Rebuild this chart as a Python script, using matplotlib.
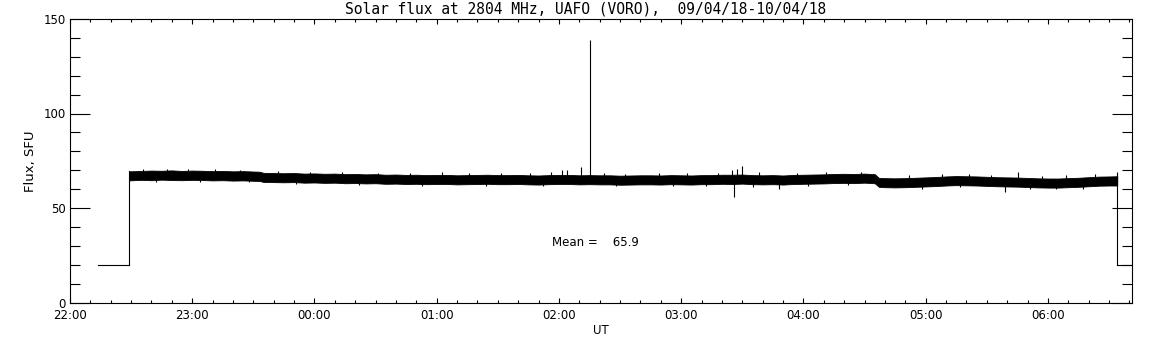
import numpy as np
import matplotlib
matplotlib.use('Agg')
import matplotlib.pyplot as plt
from matplotlib.ticker import MultipleLocator, FixedLocator

# time axis in minutes after 22:00 UT
title = 'Solar flux at 2804 MHz, UAFO (VORO),  09/04/18-10/04/18'
tick_minutes = [0, 60, 120, 180, 240, 300, 360, 420, 480]
tick_labels = ['22:00', '23:00', '00:00', '01:00', '02:00', '03:00', '04:00', '05:00', '06:00']
x_end = 521.0
mean_flux = 65.9

# flat "no data" level before and after the observation
pre_t = [13.7, 29.0]
pre_flux = [20.0, 20.0]
post_t = [514.0, 521.0]
post_flux = [20.0, 20.0]

# noise band of the measurement (lower / upper envelope, SFU)
band_t = [29, 35, 40, 45, 50, 55, 60, 65, 70, 75, 80, 85, 90, 93, 95, 100, 105, 110,
          115, 120, 125, 130, 135, 140, 145, 150, 155, 160, 165, 170, 175, 180, 185,
          190, 195, 200, 205, 210, 215, 220, 225, 230, 235, 240, 245, 250, 255, 260,
          265, 270, 275, 280, 285, 290, 295, 300, 305, 310, 315, 320, 325, 330, 335,
          340, 345, 350, 355, 360, 365, 370, 375, 380, 385, 390, 395, 397, 400, 405,
          410, 415, 420, 425, 430, 435, 440, 445, 450, 455, 460, 465, 470, 475, 480,
          485, 490, 495, 500, 505, 510, 514]
band_lo = [64.6, 64.9, 64.7, 65.0, 64.8, 64.7, 64.9, 64.8, 64.6, 64.7, 64.5, 64.6,
           64.4, 64.3, 63.8, 63.7, 63.6, 63.7, 63.4, 63.5, 63.3, 63.4, 63.1, 63.2,
           63.0, 63.1, 62.8, 62.9, 62.7, 62.8, 62.6, 62.7, 62.7, 62.5, 62.6, 62.7,
           62.8, 62.6, 62.6, 62.7, 62.5, 62.4, 62.6, 62.7, 62.7, 62.5, 62.6, 62.5,
           62.5, 62.3, 62.4, 62.5, 62.5, 62.4, 62.6, 62.5, 62.4, 62.6, 62.6, 62.8,
           62.7, 62.9, 62.6, 62.5, 62.6, 62.4, 62.7, 62.8, 62.9, 63.0, 63.2, 63.3,
           63.2, 63.4, 63.1, 61.2, 61.0, 60.9, 61.0, 61.2, 61.4, 61.6, 61.9, 62.1,
           62.0, 61.9, 61.7, 61.5, 61.4, 61.3, 61.1, 60.9, 60.8, 60.8, 61.0, 61.2,
           61.5, 61.8, 61.9, 61.9]
band_hi = [69.4, 69.6, 69.8, 69.7, 69.9, 69.6, 69.8, 69.7, 69.5, 69.6, 69.4, 69.5,
           69.3, 69.2, 68.6, 68.5, 68.4, 68.5, 68.2, 68.3, 68.1, 68.2, 67.9, 68.0,
           67.8, 67.9, 67.6, 67.7, 67.5, 67.6, 67.4, 67.5, 67.5, 67.3, 67.4, 67.5,
           67.6, 67.4, 67.4, 67.5, 67.3, 67.2, 67.4, 67.5, 67.5, 67.3, 67.4, 67.3,
           67.3, 67.1, 67.2, 67.3, 67.3, 67.2, 67.4, 67.3, 67.2, 67.4, 67.4, 67.6,
           67.6, 67.7, 67.4, 67.3, 67.4, 67.2, 67.5, 67.6, 67.7, 67.8, 68.0, 68.1,
           68.0, 68.2, 67.9, 65.9, 65.8, 65.7, 65.8, 66.0, 66.2, 66.4, 66.7, 66.9,
           66.8, 66.7, 66.5, 66.3, 66.2, 66.1, 65.9, 65.7, 65.6, 65.6, 65.8, 66.0,
           66.3, 66.6, 66.7, 66.8]

# spikes sticking out of the band
spike_t = [182.6, 241.5, 243.9, 250.8, 255.2, 325.0, 326.0, 327.5, 329.8, 348.0,
           458.9, 465.3, 514.0,
           36.0, 47.5, 58.0, 71.0, 83.5, 102.0, 118.0, 133.5, 151.0, 167.0, 196.0,
           211.5, 226.0, 236.0, 262.0, 272.5, 289.0, 303.0, 318.0, 338.0, 357.0,
           371.0, 388.0, 412.0, 428.0, 441.0, 452.0, 477.0, 489.0, 503.0,
           42.0, 64.0, 88.0, 111.0, 142.0, 173.0, 204.0, 232.0, 268.0, 296.0,
           312.0, 335.0, 362.0, 382.0, 418.0, 437.0, 471.0, 484.0, 497.0]
spike_flux = [68.9, 70.1, 70.1, 71.7, 139.0, 70.0, 55.8, 70.5, 72.3, 60.0,
              58.5, 69.0, 69.2,
              70.6, 70.8, 70.5, 70.4, 70.2, 69.5, 69.2, 69.0, 68.7, 68.4, 68.5,
              68.7, 68.3, 68.8, 68.6, 68.2, 68.5, 68.4, 68.6, 68.9, 68.7,
              69.0, 69.2, 67.3, 67.8, 68.0, 67.6, 67.1, 67.4, 67.9,
              63.8, 63.9, 63.5, 62.6, 62.0, 61.8, 61.6, 61.5, 61.4, 61.6,
              61.5, 61.3, 61.7, 62.2, 60.3, 61.0, 59.9, 59.8, 60.3]

fig = plt.figure(figsize=(11.52, 3.45), dpi=100)
ax = fig.add_axes([70 / 1152, 1 - 302.5 / 345, (1131.5 - 70) / 1152, (302.5 - 19) / 345])

ax.plot(pre_t, pre_flux, color='k', lw=0.8)
ax.plot(post_t, post_flux, color='k', lw=0.8)
ax.plot([pre_t[-1], pre_t[-1]], [pre_flux[-1], band_hi[0]], color='k', lw=0.8)
ax.plot([post_t[0], post_t[0]], [post_flux[0], band_hi[-1]], color='k', lw=0.8)
ax.fill_between(band_t, band_lo, band_hi, color='k', lw=0.6)

band_mid = np.interp(spike_t, band_t, (np.array(band_lo) + np.array(band_hi)) / 2)
ax.vlines(spike_t, band_mid, spike_flux, color='k', lw=0.8)

ax.set_xlim(0, x_end)
ax.set_ylim(0, 150)
ax.xaxis.set_major_locator(FixedLocator(tick_minutes))
ax.set_xticklabels(tick_labels)
ax.xaxis.set_minor_locator(MultipleLocator(10))
ax.yaxis.set_major_locator(MultipleLocator(50))
ax.yaxis.set_minor_locator(MultipleLocator(10))

ax.tick_params(axis='both', which='both', direction='in', top=True, right=True,
               width=0.8, labelsize=8.5, color='k')
ax.tick_params(axis='y', which='major', length=14.4, pad=3)
ax.tick_params(axis='y', which='minor', length=7.2)
ax.tick_params(axis='x', which='major', length=3.8, pad=5)
ax.tick_params(axis='x', which='minor', length=2.2)
for s in ax.spines.values():
    s.set_linewidth(0.8)

fig.text(585.5 / 1152, 1 - 9.5 / 345, title, fontsize=10.5, family='DejaVu Sans Mono',
         ha='center', va='center')
ax.set_xlabel('UT', fontsize=8.5, labelpad=1)
ax.set_ylabel('Flux, SFU', fontsize=9.5, labelpad=5)
ax.text(236.6, 31.5, 'Mean =    %.1f' % mean_flux, fontsize=8.5, va='center', ha='left')

fig.savefig('out.png', dpi=100, facecolor='white')
